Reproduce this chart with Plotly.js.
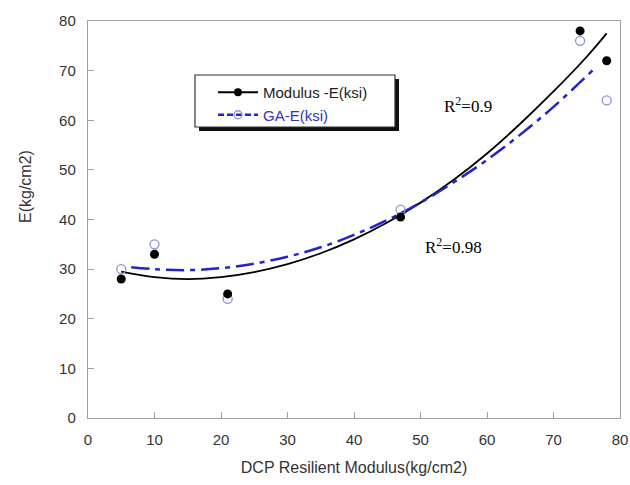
<!DOCTYPE html>
<html>
<head>
<meta charset="utf-8">
<script src="https://cdn.plot.ly/plotly-3.0.1.min.js"></script>
<style>html,body{margin:0;padding:0;background:#fff;}#chart{width:630px;height:485px;}</style>
</head>
<body>
<div id="chart"></div>
<script>
// Measured data points
const dcpX = [5, 10, 21, 47, 74, 78];
const modulusE = [28, 33, 25, 40.5, 78, 72];
const gaE = [30, 35, 24, 42, 76, 64];

// Trendlines
const trendModX = [5, 10, 15, 20, 25, 30, 35, 40, 45, 50, 55, 60, 65, 70, 75, 78];
const trendModY = [29.5, 28.4, 28.0, 28.4, 29.4, 31.0, 33.2, 36.0, 39.4, 43.4, 48.0, 53.3, 59.3, 65.8, 72.8, 77.5];
const trendGAX = [6.5, 10, 15, 20, 25, 30, 35, 40, 45, 50, 55, 60, 65, 70, 76];
const trendGAY = [30.4, 30.0, 29.8, 30.2, 31.1, 32.5, 34.4, 36.9, 39.9, 43.4, 47.5, 52.0, 57.1, 62.7, 70.2];

const xTicks = [0, 10, 20, 30, 40, 50, 60, 70, 80];
const yTicks = [0, 10, 20, 30, 40, 50, 60, 70, 80];
const seriesNames = ['Modulus -E(ksi)', 'GA-E(ksi)'];
const r2Labels = ['R<sup>2</sup>=0.9', 'R<sup>2</sup>=0.98'];

// pixel helpers for paper coords
const L = 88, R = 620, T = 21, B = 418;
const px = v => (v - L) / (R - L);
const py = v => (B - v) / (B - T);

const blue = '#2323c8';
const lav = '#8f8fe0';
const blueDash = '18px,6px,5px,6px';

const traces = [
  {x: trendModX, y: trendModY, mode: 'lines', line: {color: '#000', width: 1.8, shape: 'spline'}, showlegend: false, hoverinfo: 'skip'},
  {x: trendGAX, y: trendGAY, mode: 'lines', line: {color: blue, width: 2.5, dash: blueDash, shape: 'spline'}, showlegend: false, hoverinfo: 'skip'},
  {x: dcpX, y: gaE, mode: 'markers', marker: {symbol: 'circle-open', size: 9, color: lav, line: {width: 1.3, color: lav}}, showlegend: false},
  {x: dcpX, y: modulusE, mode: 'markers', marker: {symbol: 'circle', size: 9, color: '#000'}, showlegend: false},
  {x: [null], y: [null], name: seriesNames[0], mode: 'lines+markers', line: {color: '#000', width: 1.8}, marker: {symbol: 'circle', size: 8, color: '#000'}},
  {x: [null], y: [null], name: '<span style="color:#3434b8">' + seriesNames[1] + '</span>', mode: 'lines+markers', line: {color: blue, width: 2.5, dash: '6px,3px'}, marker: {symbol: 'circle-open', size: 8, color: lav, line: {width: 1.3, color: lav}}}
];

const axisCommon = {
  showgrid: false, zeroline: false, showline: true, mirror: true,
  linecolor: '#a0a0a0', linewidth: 1.2,
  ticks: 'inside', ticklen: 6, tickcolor: '#a0a0a0', tickwidth: 1,
  tickfont: {family: 'Liberation Sans, Arial, sans-serif', size: 15, color: '#333'},
  ticklabelstandoff: 8
};

const layout = {
  width: 630, height: 485,
  margin: {l: L, r: 630 - R, t: T, b: 485 - B},
  paper_bgcolor: '#fff', plot_bgcolor: '#fff',
  font: {family: 'Liberation Sans, Arial, sans-serif', color: '#333'},
  xaxis: Object.assign({}, axisCommon, {
    range: [0, 80], tickvals: xTicks, ticktext: xTicks.map(String),
    title: {text: 'DCP Resilient Modulus(kg/cm2)', font: {size: 16, color: '#333'}, standoff: 14}
  }),
  yaxis: Object.assign({}, axisCommon, {
    range: [0, 80], tickvals: yTicks, ticktext: yTicks.map(String)
  }),
  showlegend: true,
  legend: {
    x: px(213), y: py(76), xanchor: 'left', yanchor: 'top',
    bgcolor: 'rgba(0,0,0,0)', borderwidth: 0,
    font: {family: 'Liberation Sans, Arial, sans-serif', size: 15, color: '#222'},
    itemwidth: 40, tracegroupgap: 0
  },
  shapes: [
    {type: 'rect', xref: 'paper', yref: 'paper', x0: px(199), x1: px(399), y0: py(131), y1: py(79), fillcolor: '#111', line: {width: 0}, layer: 'above'},
    {type: 'rect', xref: 'paper', yref: 'paper', x0: px(195), x1: px(395), y0: py(127), y1: py(75), fillcolor: '#fff', line: {color: '#333', width: 1.2}, layer: 'above'}
  ],
  annotations: [
    {text: 'E(kg/cm2)', xref: 'paper', yref: 'paper', x: px(25), y: py(187), textangle: -90, showarrow: false, xanchor: 'center', yanchor: 'middle', font: {family: 'Liberation Sans, Arial, sans-serif', size: 16, color: '#333'}},
    {text: r2Labels[0], xref: 'paper', yref: 'paper', x: px(442), y: py(105), xanchor: 'left', yanchor: 'middle', showarrow: false, font: {family: 'Liberation Serif, Times New Roman, serif', size: 17, color: '#000'}},
    {text: r2Labels[1], xref: 'paper', yref: 'paper', x: px(423), y: py(246), xanchor: 'left', yanchor: 'middle', showarrow: false, font: {family: 'Liberation Serif, Times New Roman, serif', size: 17, color: '#000'}}
  ]
};

Plotly.newPlot('chart', traces, layout, {displayModeBar: false, staticPlot: true});
</script>
</body>
</html>
